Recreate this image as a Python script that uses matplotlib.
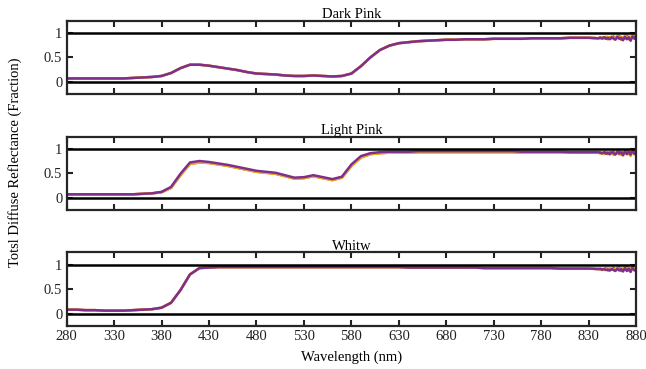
import numpy as np
import matplotlib
matplotlib.use('Agg')
import matplotlib.pyplot as plt

plt.rcParams['font.family'] = ['Liberation Serif', 'DejaVu Serif']

# wavelength grid: 10 nm steps, then 2 nm steps over the noisy tail
wl_main = list(range(280, 850, 10))
wl_tail = list(range(842, 882, 2))
wavelength = np.array(wl_main + wl_tail)

panel_titles = ['Dark Pink', 'Light Pink', 'Whitw']
x_ticks = list(range(280, 881, 50))
y_ticks = [0, 0.5, 1]

# Dark Pink
dark_main = [0.07, 0.07, 0.07, 0.07, 0.07, 0.07, 0.07, 0.08, 0.09, 0.10,
             0.12, 0.18, 0.28, 0.35, 0.35, 0.33, 0.30, 0.27, 0.24, 0.20,
             0.17, 0.16, 0.15, 0.13, 0.12, 0.12, 0.13, 0.12, 0.11, 0.12,
             0.17, 0.32, 0.50, 0.65, 0.74, 0.79, 0.81, 0.83, 0.84, 0.85,
             0.86, 0.86, 0.87, 0.87, 0.87, 0.88, 0.88, 0.88, 0.88, 0.89,
             0.89, 0.89, 0.89, 0.90, 0.90, 0.90, 0.89]
dark_tail_purple = [0.90, 0.89, 0.91, 0.88, 0.90, 0.87, 0.91, 0.89, 0.86, 0.92,
                    0.88, 0.90, 0.85, 0.92, 0.87, 0.91, 0.84, 0.93, 0.88, 0.96]
dark_tail_orange = [0.91, 0.88, 0.90, 0.92, 0.87, 0.91, 0.89, 0.93, 0.88, 0.90,
                    0.94, 0.86, 0.91, 0.89, 0.95, 0.87, 0.92, 0.90, 0.96, 0.93]
dark_tail_yellow = [0.89, 0.91, 0.88, 0.90, 0.92, 0.88, 0.93, 0.87, 0.91, 0.94,
                    0.89, 0.92, 0.88, 0.95, 0.90, 0.93, 0.89, 0.97, 0.91, 0.98]

# Light Pink
light_main_purple = [0.07, 0.07, 0.07, 0.07, 0.07, 0.07, 0.07, 0.07, 0.08, 0.09,
                     0.12, 0.22, 0.49, 0.72, 0.75, 0.73, 0.70, 0.67, 0.63, 0.59,
                     0.55, 0.53, 0.51, 0.46, 0.41, 0.42, 0.46, 0.42, 0.38, 0.43,
                     0.68, 0.85, 0.91, 0.93, 0.94, 0.94, 0.94, 0.95, 0.95, 0.95,
                     0.95, 0.95, 0.95, 0.95, 0.95, 0.95, 0.95, 0.95, 0.94, 0.94,
                     0.94, 0.94, 0.94, 0.93, 0.93, 0.93, 0.93]
light_main_yellow = [0.07, 0.07, 0.07, 0.07, 0.07, 0.07, 0.07, 0.07, 0.08, 0.09,
                     0.11, 0.20, 0.46, 0.69, 0.72, 0.71, 0.68, 0.65, 0.61, 0.57,
                     0.53, 0.51, 0.49, 0.44, 0.39, 0.40, 0.44, 0.40, 0.36, 0.41,
                     0.65, 0.82, 0.89, 0.91, 0.92, 0.92, 0.92, 0.93, 0.93, 0.93,
                     0.93, 0.93, 0.93, 0.93, 0.93, 0.93, 0.93, 0.93, 0.92, 0.92,
                     0.92, 0.92, 0.92, 0.92, 0.92, 0.92, 0.92]
light_tail_purple = [0.92, 0.91, 0.93, 0.90, 0.92, 0.89, 0.93, 0.91, 0.88, 0.94,
                     0.90, 0.93, 0.87, 0.95, 0.89, 0.94, 0.88, 0.96, 0.90, 0.94]
light_tail_orange = [0.93, 0.90, 0.92, 0.94, 0.89, 0.93, 0.91, 0.95, 0.90, 0.92,
                     0.96, 0.88, 0.93, 0.91, 0.97, 0.89, 0.94, 0.92, 0.98, 0.93]
light_tail_yellow = [0.90, 0.92, 0.89, 0.91, 0.93, 0.88, 0.92, 0.87, 0.91, 0.93,
                     0.88, 0.92, 0.86, 0.94, 0.89, 0.93, 0.85, 0.95, 0.88, 0.91]

# Whitw
white_main = [0.08, 0.08, 0.07, 0.07, 0.06, 0.06, 0.06, 0.07, 0.08, 0.09,
              0.12, 0.22, 0.48, 0.80, 0.93, 0.94, 0.95, 0.95, 0.95, 0.95,
              0.95, 0.95, 0.95, 0.95, 0.95, 0.95, 0.95, 0.95, 0.95, 0.95,
              0.95, 0.95, 0.95, 0.95, 0.95, 0.95, 0.94, 0.94, 0.94, 0.94,
              0.94, 0.94, 0.94, 0.94, 0.93, 0.93, 0.93, 0.93, 0.93, 0.93,
              0.93, 0.93, 0.92, 0.92, 0.92, 0.92, 0.91]
white_tail_purple = [0.91, 0.90, 0.91, 0.89, 0.90, 0.88, 0.91, 0.89, 0.87, 0.92,
                     0.88, 0.91, 0.86, 0.93, 0.87, 0.92, 0.85, 0.94, 0.88, 0.90]
white_tail_orange = [0.92, 0.89, 0.91, 0.93, 0.88, 0.92, 0.90, 0.94, 0.89, 0.91,
                     0.95, 0.87, 0.92, 0.90, 0.96, 0.88, 0.93, 0.91, 0.97, 0.92]
white_tail_yellow = [0.90, 0.92, 0.89, 0.91, 0.93, 0.88, 0.92, 0.89, 0.91, 0.94,
                     0.89, 0.93, 0.88, 0.95, 0.90, 0.94, 0.89, 0.96, 0.91, 0.95]

panels = [
    {'orange': dark_main + dark_tail_orange,
     'yellow': dark_main + dark_tail_yellow,
     'purple': dark_main + dark_tail_purple},
    {'orange': light_main_yellow + light_tail_orange,
     'yellow': light_main_yellow + light_tail_yellow,
     'purple': light_main_purple + light_tail_purple},
    {'orange': white_main + white_tail_orange,
     'yellow': white_main + white_tail_yellow,
     'purple': white_main + white_tail_purple},
]

colors = {'orange': '#D95319', 'yellow': '#EDB120', 'purple': '#7E2F8E'}

fig = plt.figure(figsize=(6.46, 3.69), dpi=100)
left, width, height = 0.103, 0.882, 0.199
bottoms = [0.745, 0.431, 0.117]

for i, (title, series) in enumerate(zip(panel_titles, panels)):
    ax = fig.add_axes([left, bottoms[i], width, height])
    for name in ['orange', 'yellow', 'purple']:
        ax.plot(wavelength, series[name], color=colors[name], lw=1.8)
    ax.axhline(0, color='black', lw=1.8)
    ax.axhline(1, color='black', lw=1.8)
    ax.set_xlim(280, 880)
    ax.set_ylim(-0.25, 1.25)
    ax.set_xticks(x_ticks)
    ax.set_yticks(y_ticks)
    ax.set_yticklabels(['0', '0.5', '1'])
    ax.tick_params(direction='in', length=4, width=1.5, top=True, right=True,
                   labelsize=10.5, colors='#222222', pad=3)
    if i < 2:
        ax.set_xticklabels([])
    for s in ax.spines.values():
        s.set_linewidth(1.6)
        s.set_color('#262626')
    ax.set_title(title, fontsize=10.5, pad=2)

fig.text(left + width / 2, 0.022, 'Wavelength (nm)', ha='center', fontsize=10.5)
fig.text(0.024, 0.56, 'Totsl Diffuse Reflectance (Fraction)', va='center',
         ha='center', rotation=90, fontsize=10.5)

fig.savefig('out.png', dpi=100)
